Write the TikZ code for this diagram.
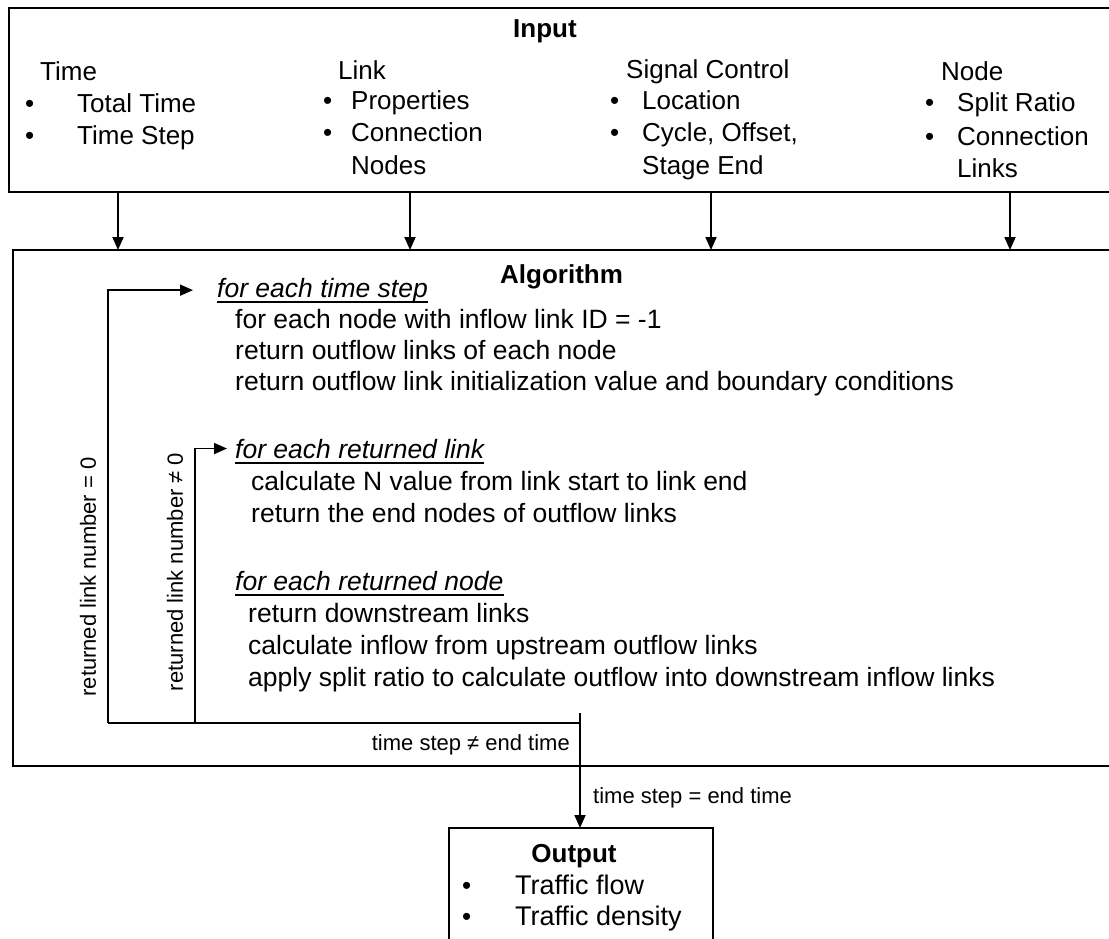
\documentclass[tikz,border=0pt]{standalone}
\usepackage{fontspec}
\setmainfont{Liberation Sans}
\usetikzlibrary{arrows.meta}
\begin{document}
\begin{tikzpicture}[x=1pt,y=-1pt,
  box/.style={draw,line width=2pt,inner sep=0pt,outer sep=0pt,anchor=north west},
  txt/.style={inner sep=0pt,anchor=base west,font=\fontsize{26}{31}\selectfont},
  algtxt/.style={txt,font=\fontsize{26.5}{32}\selectfont},
  head/.style={inner sep=0pt,anchor=base,font=\fontsize{26}{31}\selectfont\bfseries},
  loopname/.style={txt,font=\fontsize{26.5}{32}\selectfont\itshape},
  lbl/.style={inner sep=0pt,font=\fontsize{22}{26}\selectfont},
  conn/.style={line width=1.8pt,-{Triangle[width=11pt,length=13pt]}},
  wire/.style={line width=1.8pt},
  uline/.style={line width=1.6pt}]
\useasboundingbox (0,0) rectangle (1109,939);
\clip (0,0) rectangle (1109,939);

% boxes
\node[box,minimum width=1110pt,minimum height=184pt] (input) at (9,8) {};
\node[box,minimum width=1110pt,minimum height=516pt] (algo) at (13,250) {};
\node[box,minimum width=264pt,minimum height=160pt] (out) at (449,828) {};

% input box contents
\node[head] (inTitle) at (545,38) {Input};
\node[txt] (tHead) at (40,81) {Time};
\node[txt] (tB1) at (25,113) {•};
\node[txt] (tI1) at (77,113) {Total Time};
\node[txt] (tB2) at (25,145) {•};
\node[txt] (tI2) at (77,145) {Time Step};

\node[txt] (lHead) at (338,80) {Link};
\node[txt] (lB1) at (323,110) {•};
\node[txt] (lI1) at (351,110) {Properties};
\node[txt] (lB2) at (323,142) {•};
\node[txt] (lI2) at (351,142) {Connection};
\node[txt] (lI3) at (351,175) {Nodes};

\node[txt] (sHead) at (626,79) {Signal Control};
\node[txt] (sB1) at (610,110) {•};
\node[txt] (sI1) at (642,110) {Location};
\node[txt] (sB2) at (610,142) {•};
\node[txt] (sI2) at (642,142) {Cycle, Offset,};
\node[txt] (sI3) at (642,175) {Stage End};

\node[txt] (nHead) at (941,81) {Node};
\node[txt] (nB1) at (925,112) {•};
\node[txt] (nI1) at (957,112) {Split Ratio};
\node[txt] (nB2) at (925,146) {•};
\node[txt] (nI2) at (957,146) {Connection};
\node[txt] (nI3) at (957,178) {Links};

% arrows from input to algorithm
\coordinate (x1) at (118,0);
\coordinate (x2) at (410,0);
\coordinate (x3) at (711,0);
\coordinate (x4) at (1010,0);
\foreach \c in {x1,x2,x3,x4}
  \draw[conn] (input.south -| \c) -- (algo.north -| \c);

% algorithm contents
\node[txt,font=\fontsize{26}{31}\selectfont\bfseries] (algTitle) at (500,283) {Algorithm};
\node[loopname] (ts) at (217,297) {for each time step};
\node[algtxt] (a1) at (235,328) {for each node with inflow link ID = -1};
\node[algtxt] (a2) at (235,359) {return outflow links of each node};
\node[algtxt] (a3) at (235,390) {return outflow link initialization value and boundary conditions};
\node[loopname] (rl) at (235,458) {for each returned link};
\node[algtxt] (b1) at (251,490) {calculate N value from link start to link end};
\node[algtxt] (b2) at (251,522) {return the end nodes of outflow links};
\node[loopname] (rn) at (235,590) {for each returned node};
\node[algtxt] (c1) at (248,622) {return downstream links};
\node[algtxt] (c2) at (248,654) {calculate inflow from upstream outflow links};
\node[algtxt] (c3) at (248,686) {apply split ratio to calculate outflow into downstream inflow links};

\foreach \n in {ts,rl,rn}
  \draw[uline] ([yshift=-5pt]\n.base west) -- ([yshift=-5pt]\n.base east);

% loop connectors
\coordinate (jTop) at (580,713);
\coordinate (jB) at (580,723);
\coordinate (oL) at (108,723);
\coordinate (iL) at (195,723);
\draw[wire] (jB) -- (oL);
\draw[conn,shorten >=24pt] (oL) |- (ts.west);
\draw[conn,shorten >=8pt] (iL) |- (rl.west);
\draw[conn] (jTop) -- (out.north -| jTop);

\node[lbl,rotate=90] (lz) at (88,577) {returned link number = 0};
\node[lbl,rotate=90] (lnz) at (175,572) {returned link number ≠ 0};
\node[lbl,anchor=base east] (tne) at (570,750) {time step ≠ end time};
\node[lbl,anchor=base west] (teq) at (593,803) {time step = end time};

% output box contents
\node[head] (outTitle) at (574,862) {Output};
\node[txt] (oB1) at (462,894) {•};
\node[txt,font=\fontsize{27}{32}\selectfont] (oI1) at (515,894) {Traffic flow};
\node[txt] (oB2) at (462,925) {•};
\node[txt,font=\fontsize{27}{32}\selectfont] (oI2) at (515,925) {Traffic density};
\end{tikzpicture}
\end{document}
